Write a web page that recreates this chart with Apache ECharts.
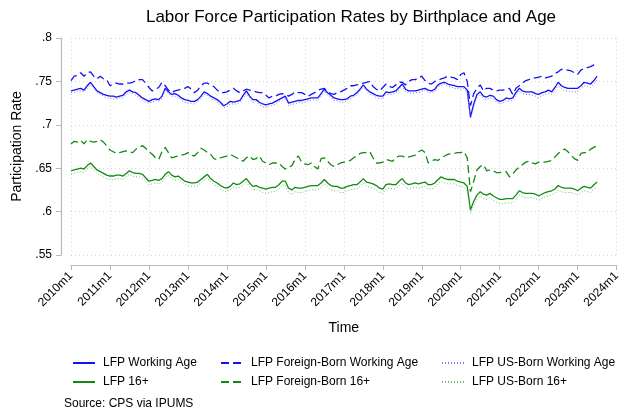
<!DOCTYPE html>
<html>
<head>
<meta charset="utf-8">
<script src="https://cdn.jsdelivr.net/npm/echarts@6/dist/echarts.min.js"></script>
<style>
  html, body { margin: 0; padding: 0; background: #fff; }
  #chart { width: 623px; height: 418px; }
</style>
</head>
<body>
<div id="chart"></div>
<script>
// monthly categories, 2010m1 .. 2024m1
const months = [];
for (let y = 2010; y <= 2023; y++) {
  for (let m = 1; m <= 12; m++) months.push(y + 'm' + m);
}
months.push('2024m1');

const yTicks = [0.55, 0.6, 0.65, 0.7, 0.75, 0.8];

// values, one row per year (2023 ends in July)
const lfpWorkingAge = [
  0.739, 0.740, 0.741, 0.742, 0.740, 0.745, 0.749, 0.744, 0.739, 0.737, 0.735, 0.734,
  0.733, 0.733, 0.732, 0.733, 0.734, 0.738, 0.740, 0.738, 0.737, 0.734, 0.731, 0.729,
  0.727, 0.729, 0.730, 0.729, 0.733, 0.742, 0.738, 0.735, 0.736, 0.734, 0.731, 0.729,
  0.728, 0.727, 0.727, 0.729, 0.733, 0.738, 0.736, 0.733, 0.731, 0.729, 0.726, 0.722,
  0.724, 0.727, 0.726, 0.727, 0.728, 0.734, 0.739, 0.733, 0.729, 0.729, 0.726, 0.724,
  0.723, 0.724, 0.725, 0.727, 0.729, 0.731, 0.733, 0.725, 0.726, 0.727, 0.728, 0.728,
  0.729, 0.730, 0.731, 0.731, 0.731, 0.736, 0.741, 0.737, 0.734, 0.731, 0.730, 0.729,
  0.729, 0.730, 0.733, 0.734, 0.737, 0.741, 0.746, 0.741, 0.738, 0.736, 0.734, 0.733,
  0.733, 0.738, 0.737, 0.738, 0.739, 0.743, 0.747, 0.741, 0.739, 0.739, 0.739, 0.740,
  0.741, 0.742, 0.740, 0.739, 0.741, 0.746, 0.748, 0.749, 0.747, 0.746, 0.745, 0.744,
  0.744, 0.744, 0.740, 0.709, 0.724, 0.735, 0.738, 0.733, 0.732, 0.734, 0.733, 0.729,
  0.727, 0.728, 0.731, 0.730, 0.731, 0.737, 0.742, 0.739, 0.738, 0.738, 0.738, 0.736,
  0.735, 0.737, 0.738, 0.740, 0.738, 0.743, 0.749, 0.745, 0.743, 0.742, 0.742, 0.742,
  0.742, 0.745, 0.749, 0.748, 0.747, 0.751, 0.756
];
const lfpForeignWorkingAge = [
  0.751, 0.756, 0.757, 0.760, 0.756, 0.760, 0.761, 0.756, 0.753, 0.756, 0.753, 0.752,
  0.745, 0.747, 0.748, 0.747, 0.747, 0.748, 0.748, 0.749, 0.751, 0.752, 0.752, 0.748,
  0.743, 0.739, 0.741, 0.743, 0.749, 0.745, 0.740, 0.737, 0.739, 0.740, 0.741, 0.742,
  0.744, 0.741, 0.737, 0.740, 0.745, 0.748, 0.748, 0.746, 0.744, 0.740, 0.737, 0.737,
  0.738, 0.740, 0.742, 0.739, 0.737, 0.739, 0.741, 0.740, 0.739, 0.738, 0.737, 0.737,
  0.734, 0.731, 0.733, 0.733, 0.735, 0.736, 0.735, 0.733, 0.735, 0.738, 0.737, 0.737,
  0.735, 0.733, 0.735, 0.737, 0.740, 0.741, 0.742, 0.738, 0.736, 0.735, 0.737, 0.738,
  0.740, 0.742, 0.745, 0.745, 0.746, 0.747, 0.748, 0.749, 0.750, 0.744, 0.741, 0.739,
  0.743, 0.747, 0.744, 0.743, 0.746, 0.749, 0.749, 0.746, 0.750, 0.752, 0.752, 0.754,
  0.756, 0.751, 0.748, 0.747, 0.750, 0.751, 0.753, 0.754, 0.756, 0.755, 0.754, 0.752,
  0.758, 0.760, 0.750, 0.722, 0.736, 0.742, 0.746, 0.739, 0.742, 0.742, 0.740, 0.739,
  0.740, 0.740, 0.741, 0.742, 0.735, 0.742, 0.745, 0.748, 0.751, 0.752, 0.754, 0.754,
  0.755, 0.756, 0.754, 0.755, 0.756, 0.759, 0.761, 0.764, 0.763, 0.763, 0.762, 0.760,
  0.758, 0.763, 0.765, 0.766, 0.767, 0.769, 0.771
];
const lfpUSWorkingAge = [
  0.737, 0.737, 0.739, 0.739, 0.738, 0.742, 0.746, 0.742, 0.737, 0.735, 0.733, 0.731,
  0.731, 0.730, 0.730, 0.731, 0.731, 0.735, 0.737, 0.736, 0.734, 0.732, 0.729, 0.726,
  0.725, 0.726, 0.728, 0.727, 0.730, 0.739, 0.736, 0.733, 0.733, 0.732, 0.728, 0.726,
  0.725, 0.725, 0.724, 0.727, 0.730, 0.735, 0.734, 0.730, 0.729, 0.726, 0.723, 0.720,
  0.721, 0.724, 0.724, 0.724, 0.726, 0.731, 0.736, 0.731, 0.726, 0.727, 0.723, 0.721,
  0.720, 0.722, 0.722, 0.724, 0.727, 0.728, 0.731, 0.722, 0.724, 0.724, 0.726, 0.725,
  0.726, 0.728, 0.728, 0.729, 0.728, 0.733, 0.739, 0.734, 0.732, 0.728, 0.728, 0.726,
  0.726, 0.728, 0.730, 0.732, 0.734, 0.739, 0.743, 0.739, 0.735, 0.734, 0.731, 0.730,
  0.730, 0.735, 0.735, 0.735, 0.737, 0.740, 0.745, 0.738, 0.737, 0.736, 0.737, 0.737,
  0.738, 0.740, 0.737, 0.737, 0.738, 0.744, 0.745, 0.747, 0.744, 0.744, 0.742, 0.742,
  0.741, 0.742, 0.737, 0.707, 0.721, 0.732, 0.735, 0.730, 0.729, 0.731, 0.730, 0.726,
  0.724, 0.725, 0.728, 0.727, 0.728, 0.734, 0.739, 0.736, 0.735, 0.735, 0.734, 0.733,
  0.731, 0.734, 0.735, 0.736, 0.735, 0.740, 0.745, 0.742, 0.739, 0.739, 0.738, 0.738,
  0.738, 0.742, 0.745, 0.744, 0.743, 0.747, 0.752
];
const lfp16 = [
  0.647, 0.648, 0.649, 0.650, 0.649, 0.653, 0.656, 0.652, 0.648, 0.646, 0.644, 0.642,
  0.641, 0.641, 0.642, 0.642, 0.641, 0.644, 0.647, 0.645, 0.644, 0.644, 0.643, 0.639,
  0.635, 0.636, 0.637, 0.636, 0.638, 0.643, 0.646, 0.642, 0.640, 0.641, 0.638, 0.635,
  0.634, 0.633, 0.633, 0.634, 0.637, 0.640, 0.643, 0.638, 0.635, 0.633, 0.630, 0.628,
  0.627, 0.629, 0.633, 0.631, 0.632, 0.635, 0.638, 0.633, 0.629, 0.630, 0.628, 0.627,
  0.626, 0.627, 0.628, 0.628, 0.631, 0.635, 0.635, 0.627, 0.625, 0.628, 0.627, 0.627,
  0.628, 0.629, 0.630, 0.630, 0.630, 0.633, 0.637, 0.633, 0.630, 0.629, 0.629, 0.627,
  0.627, 0.629, 0.630, 0.631, 0.631, 0.634, 0.638, 0.634, 0.633, 0.632, 0.630, 0.627,
  0.626, 0.631, 0.632, 0.631, 0.631, 0.635, 0.638, 0.633, 0.631, 0.632, 0.633, 0.632,
  0.633, 0.634, 0.631, 0.631, 0.633, 0.637, 0.640, 0.638, 0.637, 0.637, 0.637, 0.635,
  0.634, 0.633, 0.629, 0.602, 0.612, 0.619, 0.623, 0.620, 0.619, 0.621, 0.618, 0.616,
  0.614, 0.614, 0.615, 0.615, 0.615, 0.619, 0.624, 0.622, 0.621, 0.621, 0.621, 0.620,
  0.618, 0.620, 0.622, 0.623, 0.624, 0.626, 0.630, 0.628, 0.627, 0.627, 0.627, 0.626,
  0.624, 0.627, 0.629, 0.628, 0.627, 0.631, 0.634
];
const lfpForeign16 = [
  0.678, 0.681, 0.680, 0.682, 0.678, 0.683, 0.681, 0.680, 0.681, 0.683, 0.680, 0.676,
  0.671, 0.669, 0.667, 0.668, 0.669, 0.670, 0.669, 0.668, 0.672, 0.674, 0.676, 0.673,
  0.669, 0.666, 0.662, 0.660, 0.669, 0.674, 0.668, 0.662, 0.663, 0.664, 0.665, 0.666,
  0.668, 0.665, 0.664, 0.668, 0.673, 0.671, 0.668, 0.666, 0.661, 0.660, 0.662, 0.663,
  0.664, 0.666, 0.664, 0.662, 0.660, 0.658, 0.662, 0.664, 0.660, 0.661, 0.664, 0.658,
  0.656, 0.654, 0.656, 0.656, 0.656, 0.652, 0.649, 0.651, 0.653, 0.660, 0.664, 0.657,
  0.655, 0.654, 0.656, 0.652, 0.649, 0.661, 0.662, 0.658, 0.654, 0.652, 0.654, 0.656,
  0.657, 0.658, 0.659, 0.662, 0.664, 0.667, 0.668, 0.668, 0.669, 0.662, 0.656, 0.656,
  0.657, 0.660, 0.659, 0.658, 0.662, 0.664, 0.664, 0.662, 0.663, 0.664, 0.665, 0.669,
  0.671, 0.668, 0.656, 0.658, 0.660, 0.659, 0.662, 0.664, 0.666, 0.667, 0.667, 0.668,
  0.668, 0.669, 0.662, 0.623, 0.635, 0.648, 0.652, 0.654, 0.647, 0.648, 0.647, 0.645,
  0.645, 0.646, 0.646, 0.640, 0.643, 0.648, 0.651, 0.654, 0.657, 0.658, 0.656, 0.655,
  0.657, 0.657, 0.657, 0.658, 0.659, 0.663, 0.667, 0.670, 0.672, 0.669, 0.665, 0.661,
  0.659, 0.667, 0.668, 0.668, 0.672, 0.674, 0.676
];
const lfpUS16 = [
  0.643, 0.644, 0.645, 0.646, 0.645, 0.649, 0.652, 0.648, 0.644, 0.642, 0.640, 0.638,
  0.637, 0.637, 0.638, 0.638, 0.637, 0.640, 0.643, 0.641, 0.640, 0.640, 0.639, 0.635,
  0.631, 0.632, 0.633, 0.632, 0.634, 0.639, 0.642, 0.638, 0.636, 0.637, 0.634, 0.631,
  0.630, 0.629, 0.629, 0.630, 0.633, 0.636, 0.639, 0.634, 0.631, 0.629, 0.626, 0.624,
  0.623, 0.625, 0.628, 0.627, 0.628, 0.631, 0.634, 0.629, 0.625, 0.626, 0.624, 0.622,
  0.621, 0.622, 0.623, 0.623, 0.626, 0.630, 0.631, 0.622, 0.620, 0.623, 0.622, 0.622,
  0.623, 0.624, 0.625, 0.625, 0.625, 0.628, 0.632, 0.628, 0.625, 0.624, 0.624, 0.622,
  0.622, 0.624, 0.625, 0.626, 0.626, 0.629, 0.633, 0.629, 0.628, 0.627, 0.625, 0.622,
  0.621, 0.626, 0.627, 0.626, 0.626, 0.630, 0.633, 0.628, 0.626, 0.627, 0.628, 0.627,
  0.628, 0.629, 0.626, 0.626, 0.628, 0.632, 0.635, 0.633, 0.632, 0.632, 0.632, 0.630,
  0.629, 0.628, 0.624, 0.598, 0.607, 0.614, 0.618, 0.615, 0.614, 0.616, 0.613, 0.611,
  0.609, 0.609, 0.610, 0.610, 0.610, 0.614, 0.619, 0.617, 0.616, 0.616, 0.616, 0.615,
  0.613, 0.615, 0.617, 0.618, 0.619, 0.621, 0.625, 0.623, 0.622, 0.622, 0.622, 0.621,
  0.619, 0.622, 0.624, 0.623, 0.622, 0.626, 0.628
];

const blue = '#1414f0';
const green = '#138a13';
const font = 'Liberation Sans, Arial, sans-serif';

const chart = echarts.init(document.getElementById('chart'), null, { renderer: 'canvas' });

function line(name, data, color, type, width) {
  return {
    name: name, type: 'line', data: data,
    symbol: 'none', showSymbol: false, animation: false,
    lineStyle: { color: color, type: type, width: width },
    itemStyle: { color: color }
  };
}

// one legend per entry so the three columns line up like the original
function legendAt(name, left, top) {
  return {
    data: [name], left: left, top: top,
    itemWidth: 22, itemHeight: 10, itemGap: 0,
    itemStyle: { opacity: 0 },
    textStyle: { fontFamily: font, fontSize: 12, color: '#000', padding: [0, 0, 0, 3] }
  };
}

const option = {
  backgroundColor: '#fff',
  animation: false,
  title: [
    {
      text: 'Labor Force Participation Rates by Birthplace and Age',
      left: 346, top: 4, textAlign: 'center',
      textStyle: { fontFamily: font, fontSize: 17, fontWeight: 'normal', color: '#000' }
    },
    {
      text: 'Source: CPS via IPUMS',
      left: 59, top: 393,
      textStyle: { fontFamily: font, fontSize: 12, fontWeight: 'normal', color: '#000' }
    }
  ],
  legend: [
    legendAt('LFP Working Age', 67, 352),
    legendAt('LFP Foreign-Born Working Age', 215, 352),
    legendAt('LFP US-Born Working Age', 436, 352),
    legendAt('LFP 16+', 67, 371),
    legendAt('LFP Foreign-Born 16+', 215, 371),
    legendAt('LFP US-Born 16+', 436, 371)
  ],
  grid: { left: 71, right: 1, top: 38, bottom: 163, containLabel: false },
  xAxis: {
    type: 'category', data: months, boundaryGap: false, offset: 10,
    name: 'Time', nameLocation: 'middle', nameGap: 56,
    nameTextStyle: { fontFamily: font, fontSize: 14, color: '#000' },
    axisLine: { lineStyle: { color: '#b8b8b8', width: 1.2 } },
    axisTick: { interval: 11, length: 5, lineStyle: { color: '#b8b8b8' } },
    axisLabel: {
      interval: 11, rotate: 45, margin: 9,
      fontFamily: font, fontSize: 12, color: '#000'
    },
    splitLine: { show: true, interval: 11, lineStyle: { color: '#d9d9d9', type: [1, 3], width: 1 } }
  },
  yAxis: {
    type: 'value', min: yTicks[0], max: yTicks[yTicks.length - 1], interval: 0.05, offset: 10,
    name: 'Participation Rate', nameLocation: 'middle', nameGap: 30, nameRotate: 90,
    nameTextStyle: { fontFamily: font, fontSize: 14, color: '#000' },
    axisLine: { show: true, lineStyle: { color: '#b8b8b8', width: 1.2 } },
    axisTick: { show: true, length: 5, lineStyle: { color: '#b8b8b8' } },
    axisLabel: {
      margin: 9, fontFamily: font, fontSize: 12, color: '#000',
      formatter: function (v) { return String(+v.toFixed(2)).replace(/^0/, ''); }
    },
    splitLine: { show: true, lineStyle: { color: '#d9d9d9', type: [1, 3], width: 1 } }
  },
  series: [
    line('LFP Working Age', lfpWorkingAge, blue, 'solid', 1.3),
    line('LFP Foreign-Born Working Age', lfpForeignWorkingAge, blue, [8, 4], 1.3),
    line('LFP US-Born Working Age', lfpUSWorkingAge, '#7b7bf6', [1, 2], 1),
    line('LFP 16+', lfp16, green, 'solid', 1.3),
    line('LFP Foreign-Born 16+', lfpForeign16, green, [8, 4], 1.3),
    line('LFP US-Born 16+', lfpUS16, '#74b874', [1, 2], 1)
  ]
};

chart.setOption(option);
</script>
</body>
</html>
